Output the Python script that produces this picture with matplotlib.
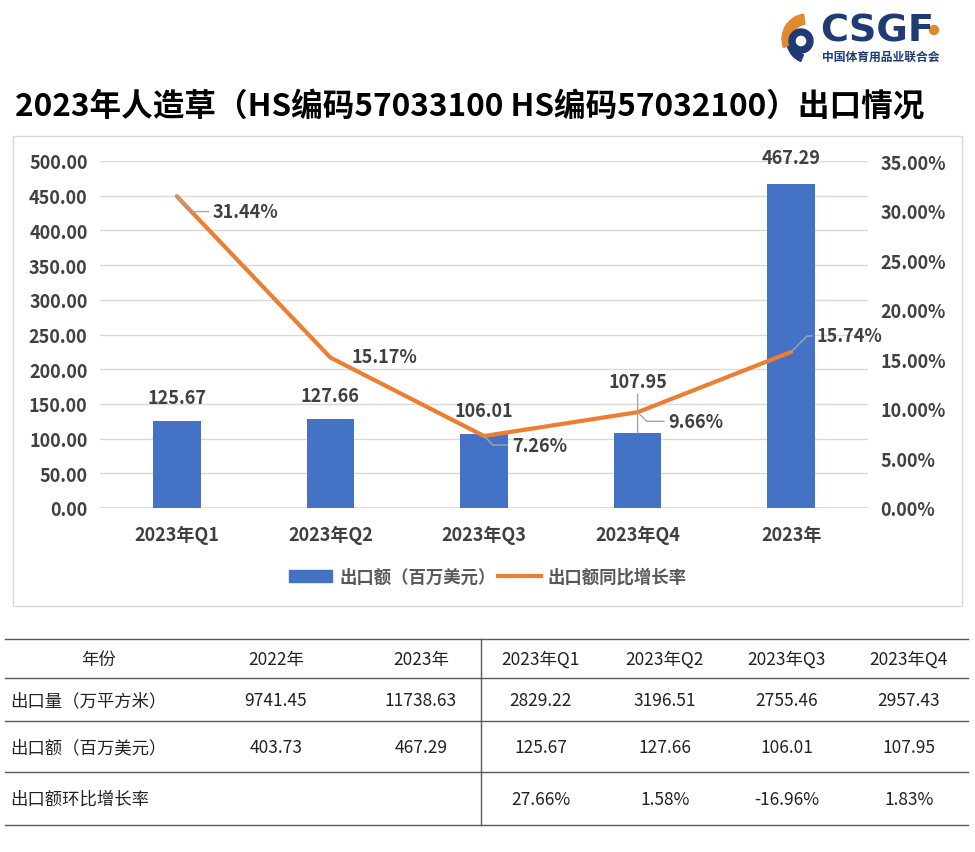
import matplotlib

matplotlib.use("Agg")
import matplotlib.pyplot as plt
from matplotlib.lines import Line2D
from matplotlib.patches import Circle, Patch, Rectangle, Wedge
from matplotlib.ticker import FuncFormatter, MultipleLocator

plt.rcParams["font.family"] = ["Noto Sans CJK SC", "DejaVu Sans"]

# 数据
categories = ["2023年Q1", "2023年Q2", "2023年Q3", "2023年Q4", "2023年"]
export_value = [125.67, 127.66, 106.01, 107.95, 467.29]   # 出口额（百万美元）
yoy_growth = [31.44, 15.17, 7.26, 9.66, 15.74]            # 出口额同比增长率 %

table_header = ["年份", "2022年", "2023年", "2023年Q1", "2023年Q2", "2023年Q3", "2023年Q4"]
row_labels = ["出口量（万平方米）", "出口额（百万美元）", "出口额环比增长率"]
volume_row = ["9741.45", "11738.63", "2829.22", "3196.51", "2755.46", "2957.43"]
value_row = ["403.73", "467.29", "125.67", "127.66", "106.01", "107.95"]
qoq_row = ["", "", "27.66%", "1.58%", "-16.96%", "1.83%"]

title = "2023年人造草（HS编码57033100 HS编码57032100）出口情况"

BLUE = "#4472C4"
ORANGE = "#ED7D31"
LOGO_ORANGE = "#E08A2E"
NAVY = "#1F3B73"
TXT = "#404040"
GRID = "#D9D9D9"
LEADER = "#A6A6A6"

W, H = 975, 853
FS = 13        # 图内文字
FS_TAB = 12.5  # 表格文字

# 标签偏移（points）
bar_label_dy = [17, 17, 17, 37, 19]
line_label_off = [(26, -11), (15, 1), (20, -6.5), (22, -6.5), (18, 11.5)]
line_leader = [True, False, True, True, True]


def fx(px):
    return px / W


def fy(py):
    return 1 - py / H


fig = plt.figure(figsize=(W / 100, H / 100), dpi=100)

# 背景层：像素坐标，放标题、logo、边框和表格
bg = fig.add_axes([0, 0, 1, 1], zorder=-1)
bg.set_xlim(0, W)
bg.set_ylim(H, 0)
bg.axis("off")

bg.add_patch(Rectangle((13, 137), 949, 470, fill=False, edgecolor=GRID, lw=1))
bg.text(15, 107, title, fontsize=22.75, fontweight="heavy", color="black",
        ha="left", va="center")

# logo（y 轴向下，角度取反）
bg.add_patch(Wedge((807, 40), 25, 160, 262, width=10, color=LOGO_ORANGE))
bg.add_patch(Wedge((801, 42), 12, 0, 360, width=6, color=NAVY))
bg.add_patch(Wedge((809, 42), 22, 112, 165, width=7, color=NAVY))
bg.text(820, 31, "CSGF", fontsize=27.5, fontweight="heavy", color=NAVY,
        family="DejaVu Sans", ha="left", va="center")
bg.add_patch(Circle((934, 31), 4.5, color=LOGO_ORANGE))
bg.text(822, 57, "中国体育用品业联合会", fontsize=8.5, fontweight="bold",
        color=NAVY, ha="left", va="center")

# 表格
row_lines = [640, 679, 722, 773, 826]
col_centers = [98, 276, 421, 541, 665, 787, 909]
row_centers = [660, 701, 748, 800]
for yl in row_lines:
    bg.plot([5, 968], [yl, yl], color="#595959", lw=1)
bg.plot([481, 481], [row_lines[0], row_lines[-1]], color="#595959", lw=1)

for cx, s in zip(col_centers, table_header):
    bg.text(cx, row_centers[0], s, fontsize=FS_TAB, color="#222222",
            ha="center", va="center")
for r, (lab, vals) in enumerate(zip(row_labels, [volume_row, value_row, qoq_row])):
    cy = row_centers[r + 1]
    bg.text(10, cy, lab, fontsize=FS_TAB, color="#222222", ha="left", va="center")
    for cx, s in zip(col_centers[1:], vals):
        bg.text(cx, cy, s, fontsize=FS_TAB, color="#222222", ha="center", va="center")

# 主图
ax = fig.add_axes([fx(100), fy(509), fx(868) - fx(100), (509 - 162) / H])
ax.set_facecolor("none")
x = list(range(len(categories)))
ax.bar(x, export_value, width=0.31, color=BLUE, zorder=2)
ax.set_xlim(-0.5, len(categories) - 0.5)
ax.set_ylim(0, 500)
ax.yaxis.set_major_locator(MultipleLocator(50))
ax.yaxis.set_major_formatter(FuncFormatter(lambda v, _: f"{v:.2f}"))
ax.grid(axis="y", color=GRID, lw=1)
ax.set_axisbelow(True)
ax.axhline(0, color=GRID, lw=1.2, zorder=1)
for s in ax.spines.values():
    s.set_visible(False)
ax.set_xticks(x, categories)
ax.tick_params(axis="y", length=0, labelsize=FS, labelcolor=TXT, pad=9)
ax.tick_params(axis="x", length=0, labelsize=FS, labelcolor=TXT, pad=12)
for lbl in ax.get_xticklabels() + ax.get_yticklabels():
    lbl.set_fontweight("bold")

for i, v in enumerate(export_value):
    arrow = None
    if bar_label_dy[i] > 25:
        arrow = dict(arrowstyle="-", color=LEADER, lw=1, shrinkA=0, shrinkB=0,
                     relpos=(0.5, 0))
    ax.annotate(f"{v:.2f}", (i, v), xytext=(0, bar_label_dy[i]),
                textcoords="offset points", ha="center", va="center",
                fontsize=FS, fontweight="bold", color=TXT, arrowprops=arrow,
                zorder=4)

ax2 = ax.twinx()
ax2.plot(x, yoy_growth, color=ORANGE, lw=3, solid_capstyle="round", zorder=3)
ax2.set_ylim(0, 35)
ax2.yaxis.set_major_locator(MultipleLocator(5))
ax2.yaxis.set_major_formatter(FuncFormatter(lambda v, _: f"{v:.2f}%"))
for s in ax2.spines.values():
    s.set_visible(False)
ax2.tick_params(axis="y", length=0, labelsize=FS, labelcolor=TXT, pad=9)
for lbl in ax2.get_yticklabels():
    lbl.set_fontweight("bold")

for i, v in enumerate(yoy_growth):
    dx, dy = line_label_off[i]
    arrow = None
    if line_leader[i]:
        ang = 45 if dy > 0 else -45
        arrow = dict(arrowstyle="-", color=LEADER, lw=1, shrinkA=1, shrinkB=0,
                     relpos=(0, 0.5),
                     connectionstyle=f"angle,angleA=0,angleB={ang},rad=0")
    ax2.annotate(f"{v:.2f}%", (i, v), xytext=(dx, dy), textcoords="offset points",
                 ha="left", va="center", fontsize=FS, fontweight="bold",
                 color=TXT, arrowprops=arrow, zorder=4)

handles = [Patch(color=BLUE, label="出口额（百万美元）"),
           Line2D([], [], color=ORANGE, lw=3, label="出口额同比增长率")]
fig.legend(handles=handles, loc="center", bbox_to_anchor=(fx(488), fy(578)),
           ncol=2, frameon=False, prop={"size": 12.5, "weight": "bold"},
           labelcolor="#595959", handlelength=2.5, handletextpad=0.4,
           columnspacing=0.1)

fig.savefig("out.png", dpi=100)
